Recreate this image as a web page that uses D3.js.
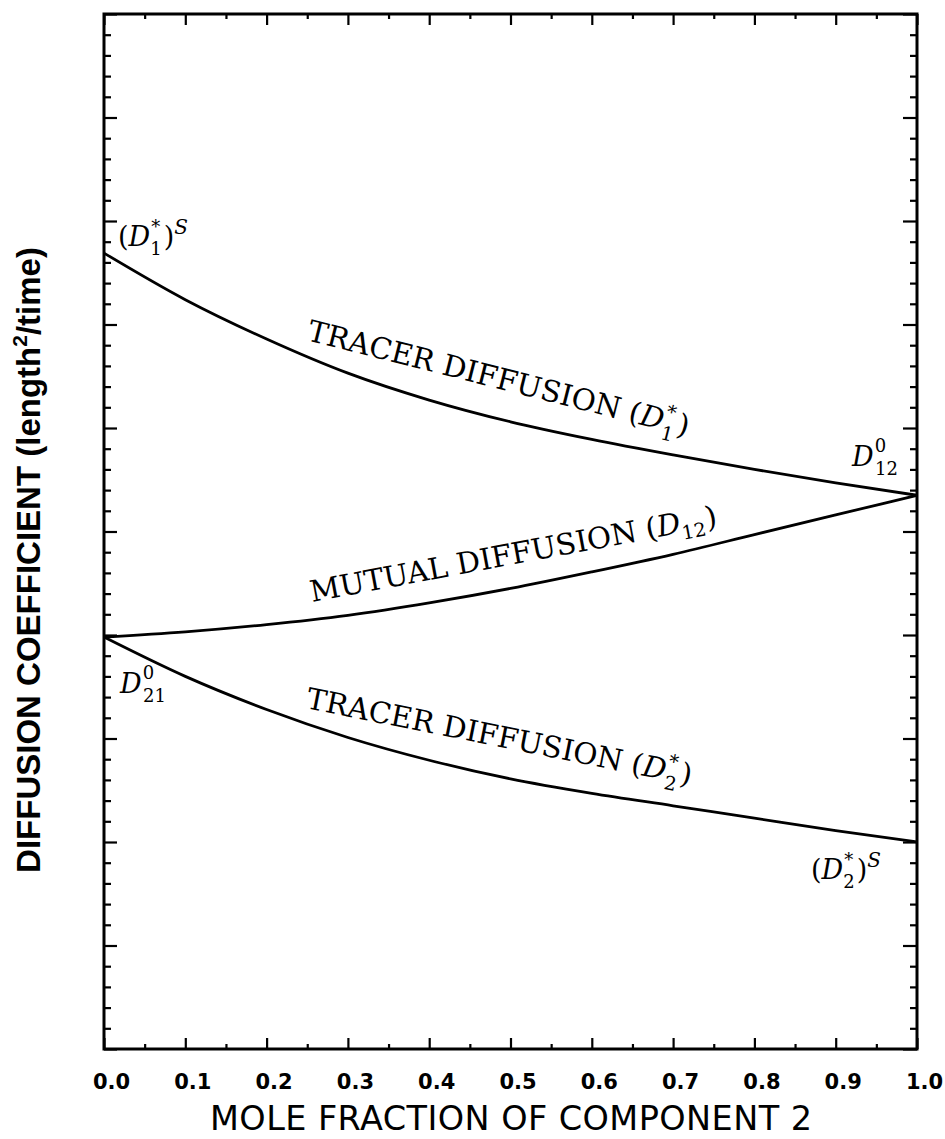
<!DOCTYPE html>
<html>
<head>
<meta charset="utf-8">
<script src="https://cdn.jsdelivr.net/npm/d3@7"></script>
<style>
  body { margin: 0; background: #fff; }
  svg { display: block; }
  .frame { fill: none; stroke: #000; stroke-width: 3; }
  .axis path { display: none; }
  .axis line { stroke: #000; stroke-width: 2.2; }
  .curve { fill: none; stroke: #000; stroke-width: 2.8; }
  .lbl { font-family: "DejaVu Serif", "Liberation Serif", serif; fill: #000; }
</style>
</head>
<body>
<div id="chart"></div>
<script>
// mole fraction of component 2
const moleFraction = [0.0, 0.1, 0.2, 0.3, 0.4, 0.5, 0.6, 0.7, 0.8, 0.9, 1.0];
// tracer diffusion of component 1 (D1*)
const tracer1 = [7.69, 7.24, 6.86, 6.53, 6.27, 6.06, 5.89, 5.74, 5.60, 5.47, 5.35];
// mutual diffusion (D12)
const mutual = [3.98, 4.03, 4.10, 4.19, 4.31, 4.45, 4.61, 4.78, 4.97, 5.16, 5.35];
// tracer diffusion of component 2 (D2*)
const tracer2 = [3.98, 3.60, 3.28, 3.01, 2.79, 2.61, 2.47, 2.35, 2.23, 2.11, 2.00];

const xTicks = [0.0, 0.1, 0.2, 0.3, 0.4, 0.5, 0.6, 0.7, 0.8, 0.9, 1.0];
const xMinorTicks = [0.05, 0.15, 0.25, 0.35, 0.45, 0.55, 0.65, 0.75, 0.85, 0.95];
const yTicks = d3.range(0, 10.01, 1);
const yMinorTicks = d3.range(0, 50).map(i => i * 0.2).filter(v => Math.abs(v - Math.round(v)) > 0.01);

const width = 945, height = 1139;
const plotLeft = 104, plotRight = 917, plotTop = 14, plotBottom = 1049;

const svg = d3.select("#chart").append("svg")
    .attr("width", width)
    .attr("height", height);

const x = d3.scaleLinear().domain([0, 1]).range([plotLeft, plotRight]);
const y = d3.scaleLinear().domain([0, 10]).range([plotBottom, plotTop]);

// ticks, all pointing into the frame
function addAxis(axis, tx, ty) {
    svg.append("g").attr("class", "axis")
        .attr("transform", `translate(${tx},${ty})`)
        .call(axis);
}
addAxis(d3.axisBottom(x).tickValues(xTicks).tickSize(-11).tickPadding(25).tickFormat(d3.format(".1f")), 0, plotBottom);
addAxis(d3.axisBottom(x).tickValues(xMinorTicks).tickSize(-5).tickFormat(""), 0, plotBottom);
addAxis(d3.axisTop(x).tickValues(xTicks).tickSize(-11).tickFormat(""), 0, plotTop);
addAxis(d3.axisTop(x).tickValues(xMinorTicks).tickSize(-5).tickFormat(""), 0, plotTop);
addAxis(d3.axisLeft(y).tickValues(yTicks).tickSize(-13).tickFormat(""), plotLeft, 0);
addAxis(d3.axisLeft(y).tickValues(yMinorTicks).tickSize(-7).tickFormat(""), plotLeft, 0);
addAxis(d3.axisRight(y).tickValues(yTicks).tickSize(-14).tickFormat(""), plotRight, 0);
addAxis(d3.axisRight(y).tickValues(yMinorTicks).tickSize(-7).tickFormat(""), plotRight, 0);

svg.selectAll(".axis text")
    .attr("dx", 7)
    .style("font-family", "'DejaVu Sans', sans-serif")
    .style("font-weight", "bold")
    .style("font-size", "21px");

// frame
svg.append("rect").attr("class", "frame")
    .attr("x", plotLeft).attr("y", plotTop)
    .attr("width", plotRight - plotLeft).attr("height", plotBottom - plotTop);

// curves
const line = d3.line()
    .x((d, i) => x(moleFraction[i]))
    .y(d => y(d))
    .curve(d3.curveMonotoneX);

[tracer1, mutual, tracer2].forEach(series => {
    svg.append("path").attr("class", "curve").attr("d", line(series));
});

// helper for "D" with sub/superscripts
function mathLabel(g, parts) {
    const t = g.append("text").attr("class", "lbl");
    parts.forEach(p => {
        const s = t.append("tspan").text(p.t);
        if (p.italic) s.style("font-style", "italic");
        if (p.size) s.style("font-size", p.size + "px");
        if (p.dy) s.attr("dy", p.dy);
        if (p.dx) s.attr("dx", p.dx);
    });
    return t;
}

function curveLabel(xp, yp, angle, text, sub, sup, size) {
    const g = svg.append("g")
        .attr("transform", `translate(${xp},${yp}) rotate(${angle})`)
        .style("font-size", size + "px");
    const parts = [{ t: text + " (" }, { t: "D", italic: true }];
    if (sup) {
        parts.push({ t: sup, size: size * 0.65, dy: -13, dx: 1 });
        parts.push({ t: sub, size: size * 0.65, dy: 22, dx: -10 });
        parts.push({ t: ")", dy: -9, dx: 2 });
    } else {
        parts.push({ t: sub, size: size * 0.65, dy: 7 });
        parts.push({ t: ")", dy: -7, dx: 1 });
    }
    mathLabel(g, parts);
}

curveLabel(306, 340, 14.2, "TRACER DIFFUSION", "1", "*", 29.5);
curveLabel(312, 602, -10.6, "MUTUAL DIFFUSION", "12", "", 29.5);
curveLabel(305, 708, 11.3, "TRACER DIFFUSION", "2", "*", 29.5);

// endpoint labels
function endLabel(xp, yp, parts) {
    const g = svg.append("g").attr("transform", `translate(${xp},${yp})`).style("font-size", "27px");
    mathLabel(g, parts);
}
endLabel(118, 246, [
    { t: "(" }, { t: "D", italic: true },
    { t: "*", size: 18, dy: -13, dx: 1 }, { t: "1", size: 18, dy: 22, dx: -10 },
    { t: ")", dy: -9, dx: 2 }, { t: "S", italic: true, size: 20, dy: -12 }
]);
endLabel(852, 466, [
    { t: "D", italic: true },
    { t: "0", size: 18, dy: -14, dx: 1 }, { t: "12", size: 18, dy: 23, dx: -11 }
]);
endLabel(120, 693, [
    { t: "D", italic: true },
    { t: "0", size: 18, dy: -14, dx: 1 }, { t: "21", size: 18, dy: 23, dx: -11 }
]);
endLabel(811, 879, [
    { t: "(" }, { t: "D", italic: true },
    { t: "*", size: 18, dy: -13, dx: 1 }, { t: "2", size: 18, dy: 22, dx: -10 },
    { t: ")", dy: -9, dx: 2 }, { t: "S", italic: true, size: 20, dy: -12 }
]);

// axis titles
svg.append("text")
    .attr("x", 511).attr("y", 1130)
    .attr("text-anchor", "middle")
    .attr("textLength", 602)
    .style("font-family", "'DejaVu Sans', sans-serif")
    .style("font-size", "33.5px")
    .text("MOLE FRACTION OF COMPONENT 2");

const yTitle = svg.append("text")
    .attr("transform", "translate(40,560) rotate(-90)")
    .attr("text-anchor", "middle")
    .style("font-family", "'Liberation Sans', Arial, sans-serif")
    .style("font-weight", "bold")
    .style("font-size", "33px");
yTitle.append("tspan").text("DIFFUSION COEFFICIENT (length");
yTitle.append("tspan").text("2").style("font-size", "21px").attr("dy", -13);
yTitle.append("tspan").text("/time)").attr("dy", 13);
</script>
</body>
</html>
